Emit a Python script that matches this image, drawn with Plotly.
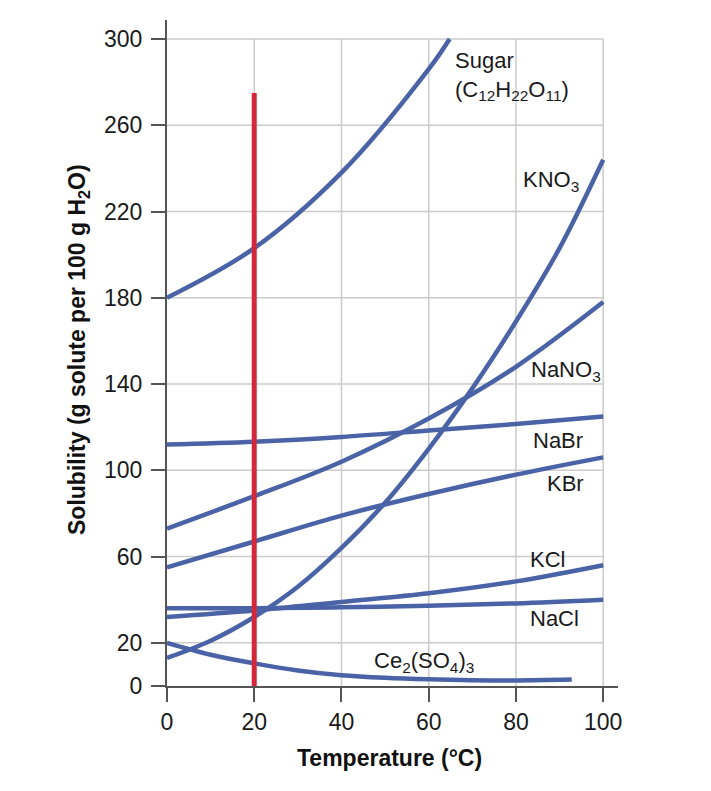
import plotly.graph_objects as go

# ---- data ----
sugar_t = [0, 20, 40, 60, 64.8]
sugar_s = [180, 203, 238, 286, 300]

kno3_t = [0, 10, 20, 30, 40, 50, 60, 70, 80, 90, 100]
kno3_s = [13, 21, 32, 46, 64, 85, 110, 138, 169, 203, 244]

nano3_t = [0, 20, 40, 60, 80, 100]
nano3_s = [73, 88, 104, 124, 148, 178]

nabr_t = [0, 20, 40, 60, 80, 100]
nabr_s = [112, 113.3, 115.5, 118.5, 121.5, 125]

kbr_t = [0, 20, 40, 60, 80, 100]
kbr_s = [55, 67, 79, 89, 98, 106]

kcl_t = [0, 20, 40, 60, 80, 100]
kcl_s = [32, 35, 39, 43, 48.5, 56]

nacl_t = [0, 20, 40, 60, 80, 100]
nacl_s = [36, 36, 36.5, 37.2, 38.3, 40]

ce_t = [0, 10, 20, 30, 40, 50, 60, 70, 80, 92.8]
ce_s = [20, 14.5, 10.5, 7.2, 5.0, 3.8, 3.1, 2.7, 2.6, 3.0]

red_t = [20, 20]
red_s = [0, 275]

x_ticks = [0, 20, 40, 60, 80, 100]
y_ticks = [0, 20, 60, 100, 140, 180, 220, 260, 300]

labels = [
    ("Sugar<br>(C<sub>12</sub>H<sub>22</sub>O<sub>11</sub>)", 65.6, 283),
    ("KNO<sub>3</sub>", 81.2, 234),
    ("NaNO<sub>3</sub>", 83.0, 146),
    ("NaBr", 83.5, 114),
    ("KBr", 86.7, 94),
    ("KCl", 82.8, 58.5),
    ("NaCl", 82.8, 31.5),
    ("Ce<sub>2</sub>(SO<sub>4</sub>)<sub>3</sub>", 47.0, 11),
]

BLUE = "#4a63a6"
RED = "#d2283a"
GRID = "#cbcbcb"
AXIS = "#555555"
TXT = "#1a1a1a"
FONT = "Liberation Sans, Arial, sans-serif"

fig = go.Figure()

for t, s in [(sugar_t, sugar_s), (kno3_t, kno3_s), (nano3_t, nano3_s), (nabr_t, nabr_s),
             (kbr_t, kbr_s), (kcl_t, kcl_s), (nacl_t, nacl_s), (ce_t, ce_s)]:
    fig.add_trace(go.Scatter(x=t, y=s, mode="lines",
                             line=dict(color=BLUE, width=4.5, shape="spline", smoothing=1.0),
                             showlegend=False, hoverinfo="skip"))

fig.add_trace(go.Scatter(x=red_t, y=red_s, mode="lines",
                         line=dict(color=RED, width=5), showlegend=False, hoverinfo="skip"))

shapes = []
for xv in x_ticks[1:]:
    shapes.append(dict(type="line", xref="x", yref="y", x0=xv, x1=xv, y0=0, y1=300,
                       line=dict(color=GRID, width=1.5), layer="below"))
for yv in y_ticks[1:]:
    shapes.append(dict(type="line", xref="x", yref="y", x0=0, x1=100, y0=yv, y1=yv,
                       line=dict(color=GRID, width=1.5), layer="below"))

annotations = []
for txt, xv, yv in labels:
    annotations.append(dict(text=txt, x=xv, y=yv, xref="x", yref="y", showarrow=False,
                            xanchor="left", yanchor="middle", align="left",
                            font=dict(family=FONT, size=22, color=TXT)))

# page offset (body margin of 8 px)
OFF = 8
W, H = 711 - OFF, 791 - OFF
L, R, T, B = 167 - OFF, 93, 20 - OFF, 105
pw, ph = W - L - R, H - T - B


def paper_xy(px, py):
    return (px - OFF - L) / pw, (H - B - (py - OFF)) / ph


yx, yy = paper_xy(78, 350)
annotations.append(dict(text="<b>Solubility (g solute per 100 g H<sub>2</sub>O)</b>",
                        x=yx, y=yy, xref="paper", yref="paper", showarrow=False,
                        xanchor="center", yanchor="middle",
                        textangle=-90, font=dict(family=FONT, size=23, color="#111111")))
tx, ty = paper_xy(389, 758)
annotations.append(dict(text="<b>Temperature (°C)</b>", x=tx, y=ty, xref="paper",
                        yref="paper", showarrow=False, xanchor="center", yanchor="middle",
                        font=dict(family=FONT, size=23, color="#111111")))

fig.update_layout(
    width=W, height=H,
    margin=dict(l=L, r=R, t=T, b=B, autoexpand=False),
    plot_bgcolor="white", paper_bgcolor="white",
    shapes=shapes, annotations=annotations,
    font=dict(family=FONT, size=23, color=TXT),
    xaxis=dict(range=[0, 103.4], tickvals=x_ticks, showgrid=False, zeroline=False,
               showline=True, linecolor=AXIS, linewidth=2, ticks="outside", ticklen=14,
               tickwidth=2, tickcolor=AXIS, tickfont=dict(family=FONT, size=23, color=TXT)),
    yaxis=dict(range=[0, 308.8], tickvals=y_ticks, showgrid=False, zeroline=False,
               showline=True, linecolor=AXIS, linewidth=2, ticks="outside", ticklen=14,
               tickwidth=2, tickcolor=AXIS, ticklabelstandoff=4,
               tickfont=dict(family=FONT, size=23, color=TXT)),
)

fig.write_html("out.html")
